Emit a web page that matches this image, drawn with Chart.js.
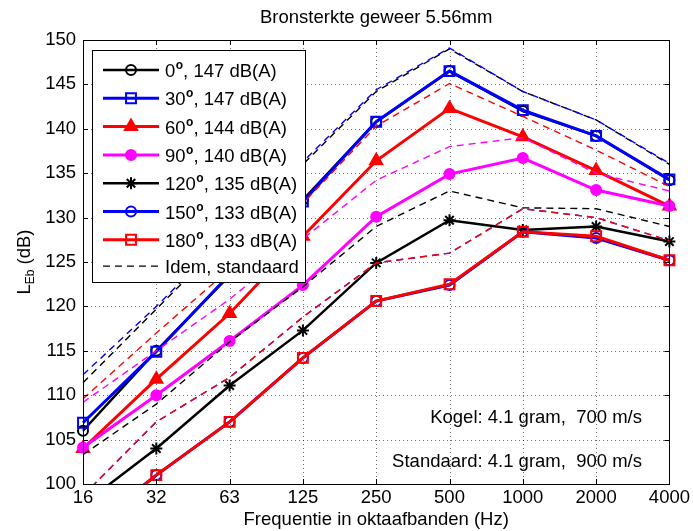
<!DOCTYPE html>
<html>
<head>
<meta charset="utf-8">
<script src="https://cdn.jsdelivr.net/npm/chart.js@4.4.1/dist/chart.umd.min.js"></script>
<style>
  html, body { margin: 0; padding: 0; background: #fff; }
  #wrap { width: 693px; height: 531px; }
</style>
</head>
<body>
<div id="wrap"><canvas id="chart" width="693" height="531"></canvas></div>
<script>
// octaafbanden
const freqLabels = ['16', '32', '63', '125', '250', '500', '1000', '2000', '4000'];
const yTicks = [100, 105, 110, 115, 120, 125, 130, 135, 140, 145, 150];

// gemeten (kogel 700 m/s)
const lvl0   = [106, 115, 123.5, 132, 140.8, 146.5, 142, 139.2, 134.2];
const lvl30  = [106.9, 114.9, 123.6, 131.8, 140.8, 146.5, 142.1, 139.2, 134.3];
const lvl60  = [104, 111.8, 119.2, 127.9, 136.4, 142.3, 139.1, 135.3, 131.3];
const lvl90  = [104.1, 110, 116.1, 122.4, 130.1, 134.9, 136.7, 133.1, 131.3];
const lvl120 = [97.7, 104, 111.1, 117.3, 124.9, 129.7, 128.6, 129, 127.3];
const lvl150 = [94.4, 101, 107, 114.2, 120.6, 122.4, 128.4, 127.7, 125.2];
const lvl180 = [94.4, 101, 107, 114.2, 120.6, 122.5, 128.4, 127.9, 125.2];

// standaard (900 m/s)
const std0   = [111.4, 119.7, 128, 136, 144.2, 149, 144.2, 141, 136];
const std30  = [112.3, 120, 128.2, 136.3, 144.4, 149.1, 144.2, 141, 136.1];
const std60  = [109.6, 117, 124.2, 131.6, 140.3, 145.1, 141.4, 137.6, 133.5];
const std90  = [109.2, 115, 120.8, 127.6, 134.2, 138, 139, 135, 133];
const std120 = [103.3, 109, 116, 122.2, 129, 133, 131.1, 131, 129];
const std150 = [98.7, 107, 112, 118.8, 124.9, 126, 131, 130, 127.4];
const std180 = [98.7, 107, 112, 118.8, 124.9, 126, 131, 130, 127.4];

const angles = ['0', '30', '60', '90', '120', '150', '180'];
const levelsA = ['147', '147', '144', '140', '135', '133', '133'];

const FONT = "'Liberation Sans', Arial, sans-serif";
const FS = 18.5;

const series = [
  { data: lvl0,   std: std0,   color: '#000000', style: 'circle',   fill: false, width: 2.5, r: 5 },
  { data: lvl30,  std: std30,  color: '#0000ff', style: 'rect',     fill: false, width: 3,   r: 7 },
  { data: lvl60,  std: std60,  color: '#ff0000', style: 'triangle', fill: true,  width: 3,   r: 7 },
  { data: lvl90,  std: std90,  color: '#ff00ff', style: 'circle',   fill: true,  width: 3,   r: 5 },
  { data: lvl120, std: std120, color: '#000000', style: 'star',     fill: true,  width: 2.5, r: 6 },
  { data: lvl150, std: std150, color: '#0000ff', style: 'circle',   fill: false, width: 3,   r: 5 },
  { data: lvl180, std: std180, color: '#ff0000', style: 'rect',     fill: false, width: 3,   r: 7 }
];

const datasets = [];
series.forEach((s, i) => {
  datasets.push({
    label: angles[i] + '\u00b0, ' + levelsA[i] + ' dB(A)',
    data: s.data,
    borderColor: s.color,
    backgroundColor: s.fill ? s.color : 'rgba(0,0,0,0)',
    borderWidth: s.width,
    pointStyle: s.style,
    pointRadius: s.r,
    pointBorderWidth: 2,
    pointBorderColor: s.color,
    pointBackgroundColor: s.fill ? s.color : 'rgba(0,0,0,0)',
    tension: 0,
    order: 20 - i
  });
});
series.forEach((s, i) => {
  datasets.push({
    label: 'std ' + angles[i],
    data: s.std,
    borderColor: s.color,
    borderWidth: 1.4,
    borderDash: [7, 5],
    pointRadius: 0,
    tension: 0,
    order: 10 - i
  });
});

// raster, kader, titels, legenda
const decor = {
  id: 'decor',
  beforeDatasetsDraw(chart) {
    const { ctx, chartArea: a, scales: { x, y } } = chart;
    ctx.save();
    ctx.strokeStyle = 'rgba(0,0,0,0.55)';
    ctx.lineWidth = 1;
    ctx.setLineDash([1, 3]);
    freqLabels.forEach((_, i) => {
      const px = Math.round(x.getPixelForValue(i)) + 0.5;
      ctx.beginPath(); ctx.moveTo(px, a.top); ctx.lineTo(px, a.bottom); ctx.stroke();
    });
    yTicks.forEach(v => {
      const py = Math.round(y.getPixelForValue(v)) + 0.5;
      ctx.beginPath(); ctx.moveTo(a.left, py); ctx.lineTo(a.right, py); ctx.stroke();
    });
    ctx.restore();
  },
  afterDraw(chart) {
    const { ctx, chartArea: a, scales: { x, y } } = chart;
    ctx.save();
    // kader + tick-streepjes naar binnen
    ctx.strokeStyle = '#000';
    ctx.lineWidth = 1;
    ctx.strokeRect(Math.round(a.left) + 0.5, Math.round(a.top) + 0.5,
      Math.round(a.right - a.left), Math.round(a.bottom - a.top));
    const tl = 5;
    freqLabels.forEach((_, i) => {
      const px = Math.round(x.getPixelForValue(i)) + 0.5;
      ctx.beginPath();
      ctx.moveTo(px, a.bottom); ctx.lineTo(px, a.bottom - tl);
      ctx.moveTo(px, a.top); ctx.lineTo(px, a.top + tl);
      ctx.stroke();
    });
    yTicks.forEach(v => {
      const py = Math.round(y.getPixelForValue(v)) + 0.5;
      ctx.beginPath();
      ctx.moveTo(a.left, py); ctx.lineTo(a.left + tl, py);
      ctx.moveTo(a.right, py); ctx.lineTo(a.right - tl, py);
      ctx.stroke();
    });

    // titel
    ctx.fillStyle = '#000';
    ctx.font = FS + 'px ' + FONT;
    ctx.textAlign = 'center';
    ctx.textBaseline = 'middle';
    ctx.fillText('Bronsterkte geweer 5.56mm', (a.left + a.right) / 2, 18);

    // y-as label L_Eb (dB)
    ctx.save();
    ctx.translate(24, (a.top + a.bottom) / 2);
    ctx.rotate(-Math.PI / 2);
    ctx.textBaseline = 'alphabetic';
    ctx.textAlign = 'left';
    const big = FS + 'px ' + FONT, small = '12px ' + FONT;
    ctx.font = big; const wL = ctx.measureText('L').width;
    ctx.font = small; const wS = ctx.measureText('Eb').width;
    ctx.font = big; const wR = ctx.measureText(' (dB)').width;
    let sx = -(wL + wS + wR) / 2;
    ctx.font = big; ctx.fillText('L', sx, 6); sx += wL;
    ctx.font = small; ctx.fillText('Eb', sx, 10); sx += wS;
    ctx.font = big; ctx.fillText(' (dB)', sx, 6);
    ctx.restore();

    // annotaties
    ctx.font = FS + 'px ' + FONT;
    ctx.textAlign = 'right';
    ctx.textBaseline = 'middle';
    ctx.fillText('Kogel: 4.1 gram,  700 m/s', 642, 418);
    ctx.fillText('Standaard: 4.1 gram,  900 m/s', 642, 462);

    // legenda
    const bx = 92, by = 50, bw = 213, bh = 232;
    ctx.fillStyle = '#fff';
    ctx.fillRect(bx, by, bw, bh);
    ctx.strokeStyle = '#000';
    ctx.lineWidth = 1;
    ctx.strokeRect(bx + 0.5, by + 0.5, bw, bh);
    const rowY0 = 70, rowH = 28.3;
    series.forEach((s, i) => {
      const ry = rowY0 + i * rowH;
      ctx.strokeStyle = s.color;
      ctx.lineWidth = s.width;
      ctx.setLineDash([]);
      ctx.beginPath(); ctx.moveTo(103, ry); ctx.lineTo(159, ry); ctx.stroke();
      ctx.fillStyle = s.fill ? s.color : 'rgba(0,0,0,0)';
      ctx.lineWidth = 2;
      Chart.helpers.drawPoint(ctx, { pointStyle: s.style, radius: s.r, rotation: 0, borderWidth: 2 }, 131, ry);
      // tekst met superscript o
      ctx.fillStyle = '#000';
      ctx.textAlign = 'left';
      ctx.textBaseline = 'alphabetic';
      let tx = 165;
      ctx.font = FS + 'px ' + FONT;
      ctx.fillText(angles[i], tx, ry + 7); tx += ctx.measureText(angles[i]).width;
      ctx.font = 'bold 12px ' + FONT;
      ctx.fillText('o', tx + 0.5, ry - 1); tx += ctx.measureText('o').width + 0.5;
      ctx.font = FS + 'px ' + FONT;
      ctx.fillText(', ' + levelsA[i] + ' dB(A)', tx, ry + 7);
    });
    const ly = rowY0 + 7 * rowH - 2;
    ctx.strokeStyle = '#000';
    ctx.lineWidth = 1.4;
    ctx.setLineDash([7, 5]);
    ctx.beginPath(); ctx.moveTo(103, ly); ctx.lineTo(159, ly); ctx.stroke();
    ctx.setLineDash([]);
    ctx.fillStyle = '#000';
    ctx.font = FS + 'px ' + FONT;
    ctx.fillText('Idem, standaard', 165, ly + 7);
    ctx.restore();
  }
};

new Chart(document.getElementById('chart'), {
  type: 'line',
  data: { labels: freqLabels, datasets: datasets },
  options: {
    responsive: false,
    animation: false,
    devicePixelRatio: 1,
    layout: { padding: { top: 40, right: 21, left: 0, bottom: 0 } },
    plugins: { legend: { display: false }, tooltip: { enabled: false }, title: { display: false } },
    scales: {
      x: {
        type: 'category',
        offset: false,
        grid: { display: false, drawTicks: false },
        border: { display: false },
        ticks: { color: '#000', font: { size: FS, family: FONT }, padding: 3, maxRotation: 0, autoSkip: false },
        title: { display: true, text: 'Frequentie in oktaafbanden (Hz)', color: '#000',
                 font: { size: FS, family: FONT }, padding: { top: 0, bottom: 0 } },
        afterFit(s) { s.height = 47; }
      },
      y: {
        type: 'linear',
        min: 100,
        max: 150,
        grid: { display: false, drawTicks: false },
        border: { display: false },
        ticks: { stepSize: 5, color: '#000', font: { size: FS, family: FONT }, padding: 7 },
        afterFit(s) { s.width = 83; }
      }
    }
  },
  plugins: [decor]
});
</script>
</body>
</html>
